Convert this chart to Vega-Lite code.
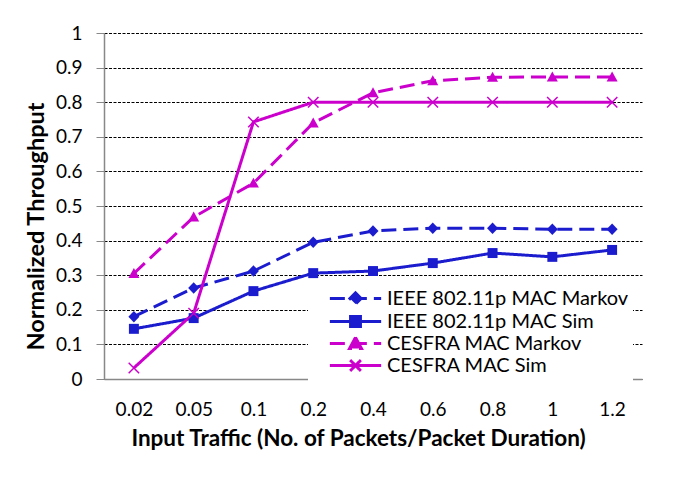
{
  "$schema": "https://vega.github.io/schema/vega-lite/v6.json",
  "autosize": "none",
  "width": 538,
  "height": 346,
  "padding": {"left": 104, "top": 33, "right": 33, "bottom": 98},
  "background": "white",
  "config": {
    "view": {"stroke": null},
    "font": "Lato",
    "axis": {"labelFont": "Lato", "titleFont": "Lato", "labelColor": "#000", "titleColor": "#000"}
  },
  "data": {
    "values": [
      {"traffic": "0.02", "series": "IEEE 802.11p MAC Markov", "throughput": 0.18},
      {"traffic": "0.05", "series": "IEEE 802.11p MAC Markov", "throughput": 0.263},
      {"traffic": "0.1", "series": "IEEE 802.11p MAC Markov", "throughput": 0.312},
      {"traffic": "0.2", "series": "IEEE 802.11p MAC Markov", "throughput": 0.395},
      {"traffic": "0.4", "series": "IEEE 802.11p MAC Markov", "throughput": 0.428},
      {"traffic": "0.6", "series": "IEEE 802.11p MAC Markov", "throughput": 0.436},
      {"traffic": "0.8", "series": "IEEE 802.11p MAC Markov", "throughput": 0.436},
      {"traffic": "1", "series": "IEEE 802.11p MAC Markov", "throughput": 0.433},
      {"traffic": "1.2", "series": "IEEE 802.11p MAC Markov", "throughput": 0.433},
      {"traffic": "0.02", "series": "IEEE 802.11p MAC Sim", "throughput": 0.145},
      {"traffic": "0.05", "series": "IEEE 802.11p MAC Sim", "throughput": 0.176},
      {"traffic": "0.1", "series": "IEEE 802.11p MAC Sim", "throughput": 0.254},
      {"traffic": "0.2", "series": "IEEE 802.11p MAC Sim", "throughput": 0.306},
      {"traffic": "0.4", "series": "IEEE 802.11p MAC Sim", "throughput": 0.312},
      {"traffic": "0.6", "series": "IEEE 802.11p MAC Sim", "throughput": 0.335},
      {"traffic": "0.8", "series": "IEEE 802.11p MAC Sim", "throughput": 0.364},
      {"traffic": "1", "series": "IEEE 802.11p MAC Sim", "throughput": 0.353},
      {"traffic": "1.2", "series": "IEEE 802.11p MAC Sim", "throughput": 0.373},
      {"traffic": "0.02", "series": "CESFRA MAC Markov", "throughput": 0.305},
      {"traffic": "0.05", "series": "CESFRA MAC Markov", "throughput": 0.468},
      {"traffic": "0.1", "series": "CESFRA MAC Markov", "throughput": 0.566},
      {"traffic": "0.2", "series": "CESFRA MAC Markov", "throughput": 0.74},
      {"traffic": "0.4", "series": "CESFRA MAC Markov", "throughput": 0.827},
      {"traffic": "0.6", "series": "CESFRA MAC Markov", "throughput": 0.862},
      {"traffic": "0.8", "series": "CESFRA MAC Markov", "throughput": 0.872},
      {"traffic": "1", "series": "CESFRA MAC Markov", "throughput": 0.873},
      {"traffic": "1.2", "series": "CESFRA MAC Markov", "throughput": 0.873},
      {"traffic": "0.02", "series": "CESFRA MAC Sim", "throughput": 0.032},
      {"traffic": "0.05", "series": "CESFRA MAC Sim", "throughput": 0.19},
      {"traffic": "0.1", "series": "CESFRA MAC Sim", "throughput": 0.743},
      {"traffic": "0.2", "series": "CESFRA MAC Sim", "throughput": 0.8},
      {"traffic": "0.4", "series": "CESFRA MAC Sim", "throughput": 0.8},
      {"traffic": "0.6", "series": "CESFRA MAC Sim", "throughput": 0.8},
      {"traffic": "0.8", "series": "CESFRA MAC Sim", "throughput": 0.8},
      {"traffic": "1", "series": "CESFRA MAC Sim", "throughput": 0.8},
      {"traffic": "1.2", "series": "CESFRA MAC Sim", "throughput": 0.8}
    ]
  },
  "encoding": {
    "x": {
      "field": "traffic",
      "type": "ordinal",
      "sort": ["0.02", "0.05", "0.1", "0.2", "0.4", "0.6", "0.8", "1", "1.2"],
      "scale": {"type": "point", "padding": 0.5},
      "axis": {
        "title": "Input Traffic (No. of Packets/Packet Duration)",
        "labelAngle": 0,
        "labelFontSize": 19,
        "labelPadding": 21,
        "ticks": false,
        "domainColor": "#888",
        "domainWidth": 1.5,
        "titleFontSize": 22.5,
        "titleFontWeight": "bold",
        "titlePadding": 8,
        "titleX": 254,
        "grid": false
      }
    },
    "y": {
      "field": "throughput",
      "type": "quantitative",
      "scale": {"domain": [0, 1], "nice": false},
      "axis": {
        "title": "Normalized Throughput",
        "values": [0, 0.1, 0.2, 0.3, 0.4, 0.5, 0.6, 0.7, 0.8, 0.9, 1],
        "format": "~g",
        "labelFontSize": 19,
        "labelPadding": 14,
        "tickSize": 8,
        "tickColor": "#888",
        "domainColor": "#888",
        "domainWidth": 1.5,
        "grid": true,
        "gridColor": "#000",
        "gridDash": [3, 1.5],
        "gridWidth": 1,
        "gridOpacity": 1,
        "titleFontSize": 23.5,
        "titleFontWeight": "bold",
        "titleY": 193,
        "titlePadding": 7
      }
    }
  },
  "layer": [
    {
      "mark": {"type": "line", "strokeWidth": 3},
      "encoding": {
        "color": {
          "field": "series",
          "type": "nominal",
          "scale": {
            "domain": ["IEEE 802.11p MAC Markov", "IEEE 802.11p MAC Sim", "CESFRA MAC Markov", "CESFRA MAC Sim"],
            "range": ["#1c1ccf", "#1c1ccf", "#cc00cc", "#cc00cc"]
          },
          "legend": {
            "title": null,
            "orient": "none",
            "legendX": 204,
            "legendY": 251,
            "fillColor": "white",
            "padding": 4,
            "symbolSize": 324,
            "symbolOffset": 33,
            "labelOffset": 21,
            "labelFont": "Lato",
            "labelFontSize": 20,
            "labelColor": "#000",
            "labelLimit": 400,
            "rowPadding": -5,
            "encode": {
              "symbols": {
                "update": {
                  "shape": {"signal": "datum.value === 'IEEE 802.11p MAC Markov' ? 'M-2.85,0L2.85,0M0,-0.62L0.62,0L0,0.62L-0.62,0Z' : datum.value === 'IEEE 802.11p MAC Sim' ? 'M-2.85,0L2.85,0M-0.55,-0.55L0.55,-0.55L0.55,0.55L-0.55,0.55Z' : datum.value === 'CESFRA MAC Markov' ? 'M-2.85,0L2.85,0M0,-0.68L0.66,0.55L-0.66,0.55Z' : 'M-2.85,0L2.85,0M-0.6,-0.6L0.6,0.6M-0.6,0.6L0.6,-0.6'"},
                  "strokeDash": {"signal": "indexof(datum.value, 'Markov') >= 0 ? [12, 27.3] : [1, 0]"},
                  "fill": {"scale": "color", "field": "value"},
                  "stroke": {"scale": "color", "field": "value"},
                  "fillOpacity": {"value": 1},
                  "strokeOpacity": {"value": 1},
                  "strokeWidth": {"value": 3},
                  "opacity": {"value": 1}
                }
              }
            }
          }
        },
        "strokeDash": {
          "field": "series",
          "type": "nominal",
          "scale": {
            "domain": ["IEEE 802.11p MAC Markov", "IEEE 802.11p MAC Sim", "CESFRA MAC Markov", "CESFRA MAC Sim"],
            "range": [[15, 7], [1, 0], [15, 7], [1, 0]]
          },
          "legend": null
        }
      }
    },
    {
      "transform": [{"filter": {"field": "series", "equal": "IEEE 802.11p MAC Markov"}}],
      "mark": {"type": "point", "shape": "M0,-1.1L1.05,0L0,1.1L-1.05,0Z", "filled": true, "size": 110, "color": "#1c1ccf", "opacity": 1}
    },
    {
      "transform": [{"filter": {"field": "series", "equal": "IEEE 802.11p MAC Sim"}}],
      "mark": {"type": "point", "shape": "M-0.95,-0.95L0.95,-0.95L0.95,0.95L-0.95,0.95Z", "filled": true, "size": 110, "color": "#1c1ccf", "opacity": 1}
    },
    {
      "transform": [{"filter": {"field": "series", "equal": "CESFRA MAC Markov"}}],
      "mark": {"type": "point", "shape": "M0,-1.05L1.05,0.85L-1.05,0.85Z", "filled": true, "size": 110, "color": "#cc00cc", "opacity": 1}
    },
    {
      "transform": [{"filter": {"field": "series", "equal": "CESFRA MAC Sim"}}],
      "mark": {"type": "point", "shape": "M-1,-1L1,1M-1,1L1,-1", "filled": false, "size": 110, "strokeWidth": 1.5, "color": "#cc00cc", "opacity": 1}
    }
  ]
}
